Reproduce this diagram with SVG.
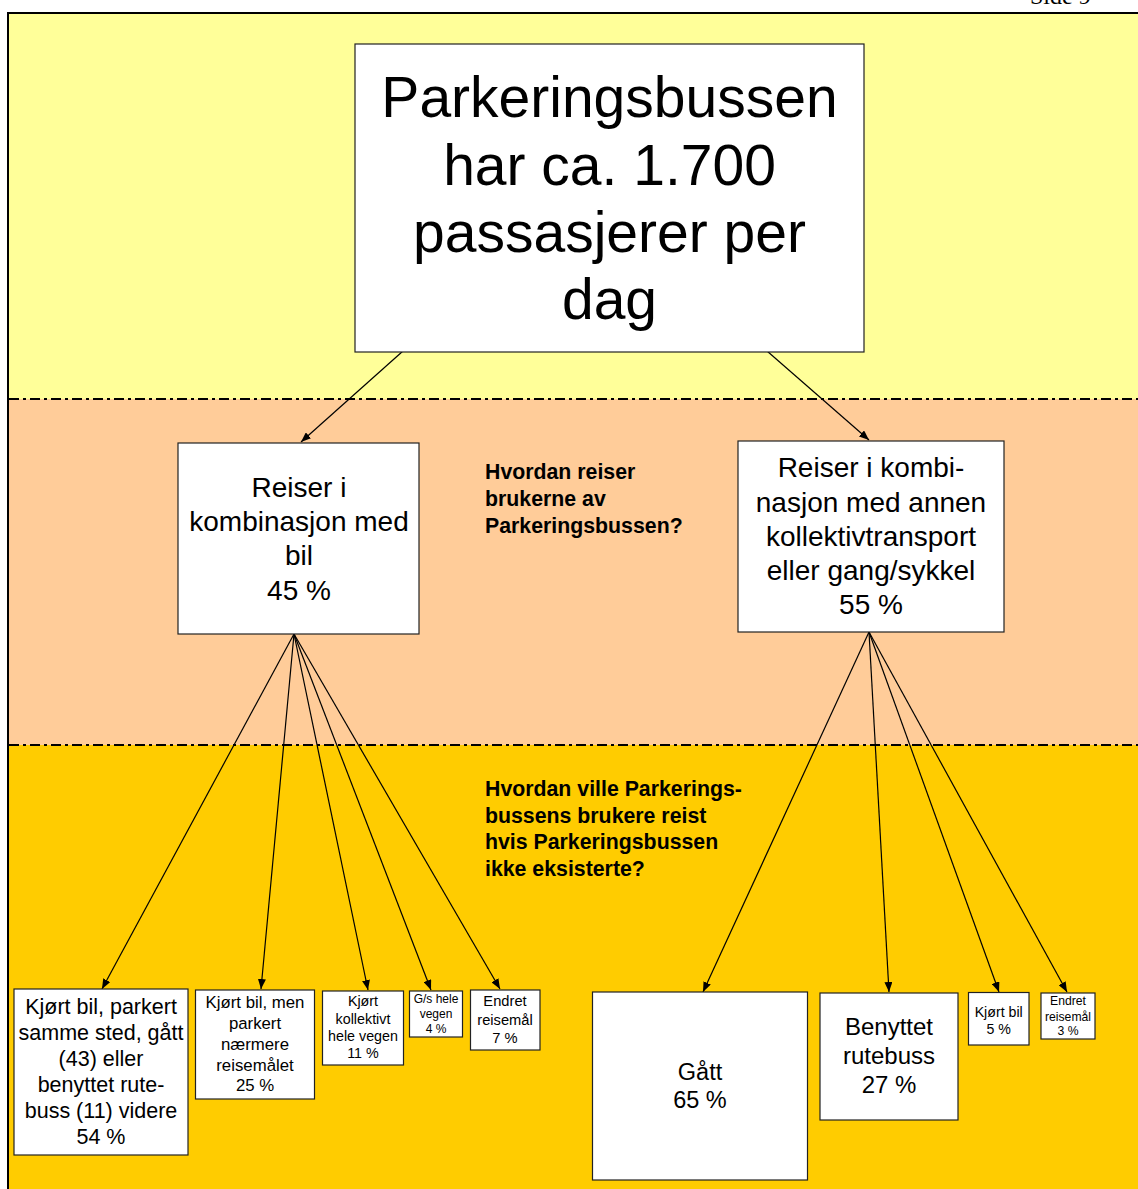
<svg xmlns="http://www.w3.org/2000/svg" width="1138" height="1189" viewBox="0 0 1138 1189">
<style>
.box{fill:#fff;stroke:#222;stroke-width:1.2}
.t{font-family:"Liberation Sans",Arial,sans-serif;fill:#000;text-anchor:middle}
.b{font-family:"Liberation Sans",Arial,sans-serif;font-weight:bold;fill:#000}
.sep{stroke:#000;stroke-width:2;stroke-dasharray:10 4 3 4;fill:none}
.c{stroke:#000;stroke-width:1.2;fill:none;marker-end:url(#ah)}
</style>
<defs>
<marker id="ah" markerUnits="userSpaceOnUse" markerWidth="10" markerHeight="8" refX="10" refY="4" orient="auto">
<path d="M0,0 L10,4 L0,8 Z" fill="#000"/>
</marker>
</defs>
<rect x="0" y="0" width="1138" height="1189" fill="#fff"/>
<text x="1030" y="4" font-family="'Liberation Serif',serif" font-size="24" fill="#000">Side 9</text>
<rect x="8" y="13" width="1130" height="386" fill="#FFFF99"/>
<rect x="8" y="399" width="1130" height="346" fill="#FFCC99"/>
<rect x="8" y="745" width="1130" height="444" fill="#FFCC00"/>
<line x1="7" y1="13" x2="1138" y2="13" stroke="#000" stroke-width="2"/>
<line x1="8" y1="12" x2="8" y2="1189" stroke="#000" stroke-width="2"/>
<line class="sep" x1="9" y1="399" x2="1138" y2="399"/>
<line class="sep" x1="9" y1="745" x2="1138" y2="745"/>

<g id="connectors">
<line class="c" x1="403" y1="351" x2="301" y2="442"/>
<line class="c" x1="767" y1="351" x2="869" y2="440"/>
<line class="c" x1="294" y1="634" x2="102" y2="989"/>
<line class="c" x1="294" y1="634" x2="261" y2="989"/>
<line class="c" x1="294" y1="634" x2="368" y2="990"/>
<line class="c" x1="294" y1="634" x2="431" y2="990"/>
<line class="c" x1="294" y1="634" x2="500" y2="989"/>
<line class="c" x1="869" y1="632" x2="703" y2="992"/>
<line class="c" x1="869" y1="632" x2="889" y2="992"/>
<line class="c" x1="869" y1="632" x2="999" y2="992"/>
<line class="c" x1="869" y1="632" x2="1067" y2="992"/>
</g>

<g id="main">
<rect class="box" x="355" y="44" width="509" height="308"/>
<text class="t" font-size="57" x="609.5"><tspan x="609.5" y="117">Parkeringsbussen</tspan><tspan x="609.5" y="185">har ca. 1.700</tspan><tspan x="609.5" y="252">passasjerer per</tspan><tspan x="609.5" y="319">dag</tspan></text>
</g>

<g id="left">
<rect class="box" x="178" y="443" width="241" height="191"/>
<text class="t" font-size="28" x="299"><tspan x="299" y="497">Reiser i</tspan><tspan x="299" y="531">kombinasjon med</tspan><tspan x="299" y="565">bil</tspan><tspan x="299" y="600">45 %</tspan></text>
</g>

<g id="right">
<rect class="box" x="738" y="441" width="266" height="191"/>
<text class="t" font-size="28" x="871"><tspan x="871" y="477">Reiser i kombi-</tspan><tspan x="871" y="512">nasjon med annen</tspan><tspan x="871" y="546">kollektivtransport</tspan><tspan x="871" y="580">eller gang/sykkel</tspan><tspan x="871" y="614">55 %</tspan></text>
</g>

<g id="q1">
<text class="b" font-size="21.3"><tspan x="485" y="479">Hvordan reiser</tspan><tspan x="485" y="506">brukerne av</tspan><tspan x="485" y="533">Parkeringsbussen?</tspan></text>
</g>
<g id="q2">
<text class="b" font-size="21.3"><tspan x="485" y="796">Hvordan ville Parkerings-</tspan><tspan x="485" y="823">bussens brukere reist</tspan><tspan x="485" y="849">hvis Parkeringsbussen</tspan><tspan x="485" y="876">ikke eksisterte?</tspan></text>
</g>

<g id="n1">
<rect class="box" x="14" y="989" width="174" height="166"/>
<text class="t" font-size="21.5"><tspan x="101" y="1014">Kjørt bil, parkert</tspan><tspan x="101" y="1040">samme sted, gått</tspan><tspan x="101" y="1066">(43) eller</tspan><tspan x="101" y="1092">benyttet rute-</tspan><tspan x="101" y="1118">buss (11) videre</tspan><tspan x="101" y="1144">54 %</tspan></text>
</g>
<g id="n2">
<rect class="box" x="195.5" y="990" width="119" height="109"/>
<text class="t" font-size="16.8"><tspan x="255" y="1008">Kjørt bil, men</tspan><tspan x="255" y="1029">parkert</tspan><tspan x="255" y="1050">nærmere</tspan><tspan x="255" y="1071">reisemålet</tspan><tspan x="255" y="1091">25 %</tspan></text>
</g>
<g id="n3">
<rect class="box" x="322.5" y="991" width="81" height="74"/>
<text class="t" font-size="14.3"><tspan x="363" y="1006">Kjørt</tspan><tspan x="363" y="1024">kollektivt</tspan><tspan x="363" y="1041">hele vegen</tspan><tspan x="363" y="1058">11 %</tspan></text>
</g>
<g id="n4">
<rect class="box" x="409.5" y="991" width="53" height="46"/>
<text class="t" font-size="12"><tspan x="436" y="1003">G/s hele</tspan><tspan x="436" y="1018">vegen</tspan><tspan x="436" y="1033">4 %</tspan></text>
</g>
<g id="n5">
<rect class="box" x="470.5" y="990" width="69.5" height="60"/>
<text class="t" font-size="14.7"><tspan x="505" y="1006">Endret</tspan><tspan x="505" y="1025">reisemål</tspan><tspan x="505" y="1043">7 %</tspan></text>
</g>
<g id="n6">
<rect class="box" x="592.5" y="992" width="215" height="188"/>
<text class="t" font-size="23.5"><tspan x="700" y="1080">Gått</tspan><tspan x="700" y="1108">65 %</tspan></text>
</g>
<g id="n7">
<rect class="box" x="820" y="993" width="138" height="127"/>
<text class="t" font-size="24"><tspan x="889" y="1035">Benyttet</tspan><tspan x="889" y="1064">rutebuss</tspan><tspan x="889" y="1093">27 %</tspan></text>
</g>
<g id="n8">
<rect class="box" x="968.5" y="992.5" width="60.5" height="52.5"/>
<text class="t" font-size="14.2"><tspan x="998.7" y="1017">Kjørt bil</tspan><tspan x="998.7" y="1034">5 %</tspan></text>
</g>
<g id="n9">
<rect class="box" x="1041" y="993" width="54" height="46"/>
<text class="t" font-size="12.2"><tspan x="1068" y="1005">Endret</tspan><tspan x="1068" y="1021">reisemål</tspan><tspan x="1068" y="1035">3 %</tspan></text>
</g>
</svg>
